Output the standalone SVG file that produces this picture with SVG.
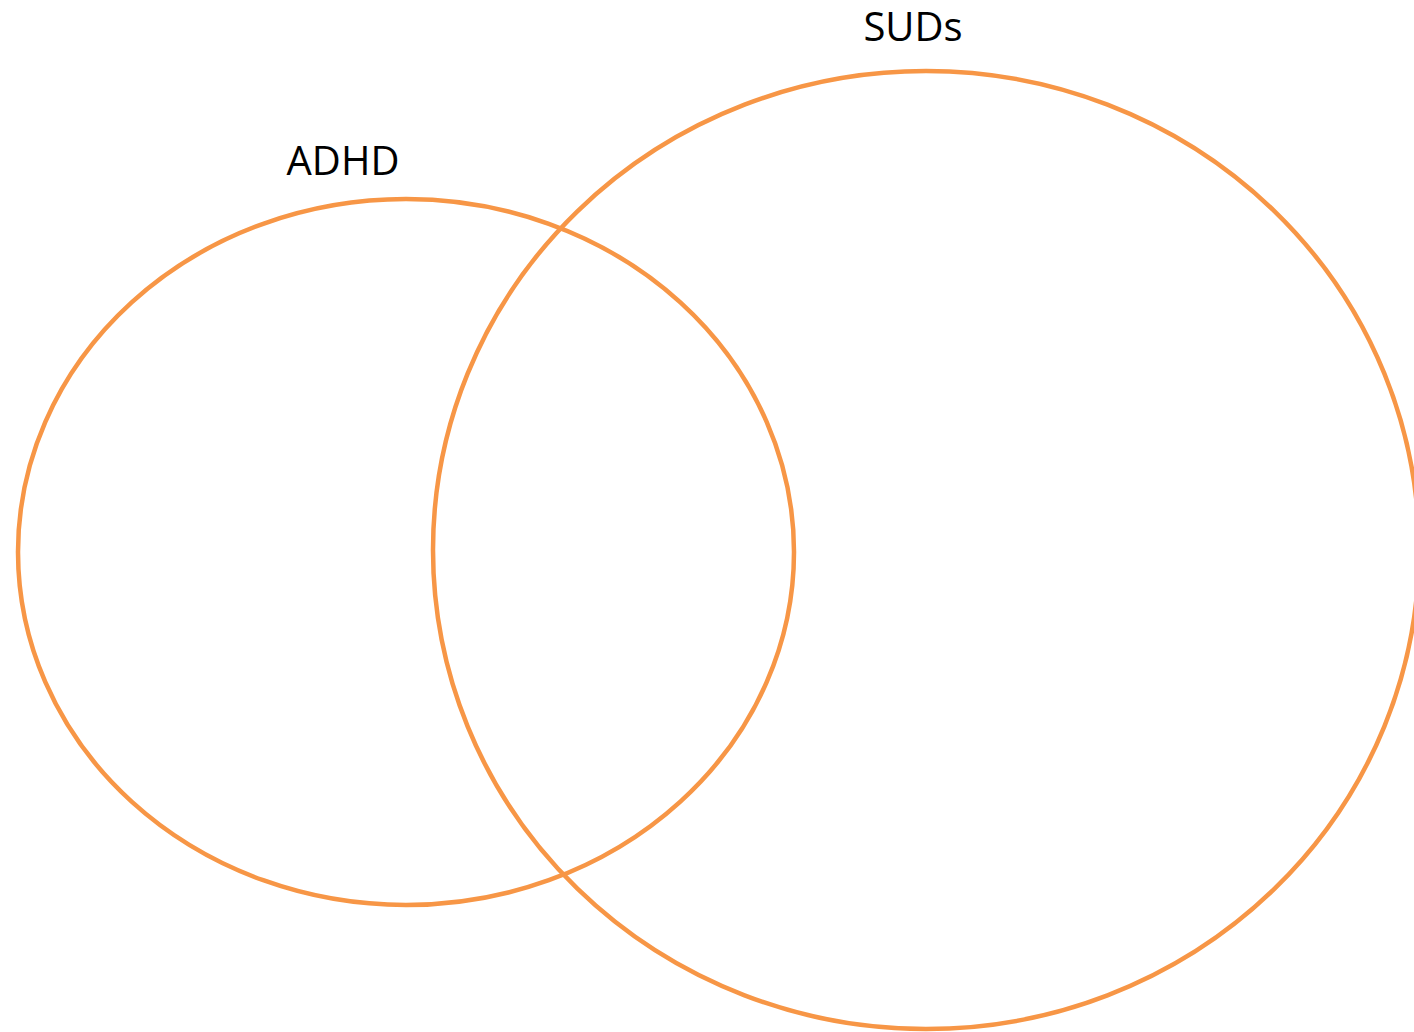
<svg xmlns="http://www.w3.org/2000/svg" width="1414" height="1032" viewBox="0 0 1414 1032">
<style>
.set{fill:none;stroke:#F79646;stroke-width:4.5}
.lbl{font-family:"Open Sans","Liberation Sans",sans-serif;font-size:40px;fill:#000}
</style>
<rect width="1414" height="1032" fill="#fff"/>
<g id="adhd">
<ellipse class="set" cx="406" cy="552" rx="388" ry="353"/>
<text class="lbl" x="343" y="175" text-anchor="middle">ADHD</text>
</g>
<g id="suds">
<ellipse class="set" cx="926" cy="550" rx="493" ry="479"/>
<text class="lbl" x="913" y="41" text-anchor="middle">SUDs</text>
</g>
<g id="connectors"></g>
</svg>
